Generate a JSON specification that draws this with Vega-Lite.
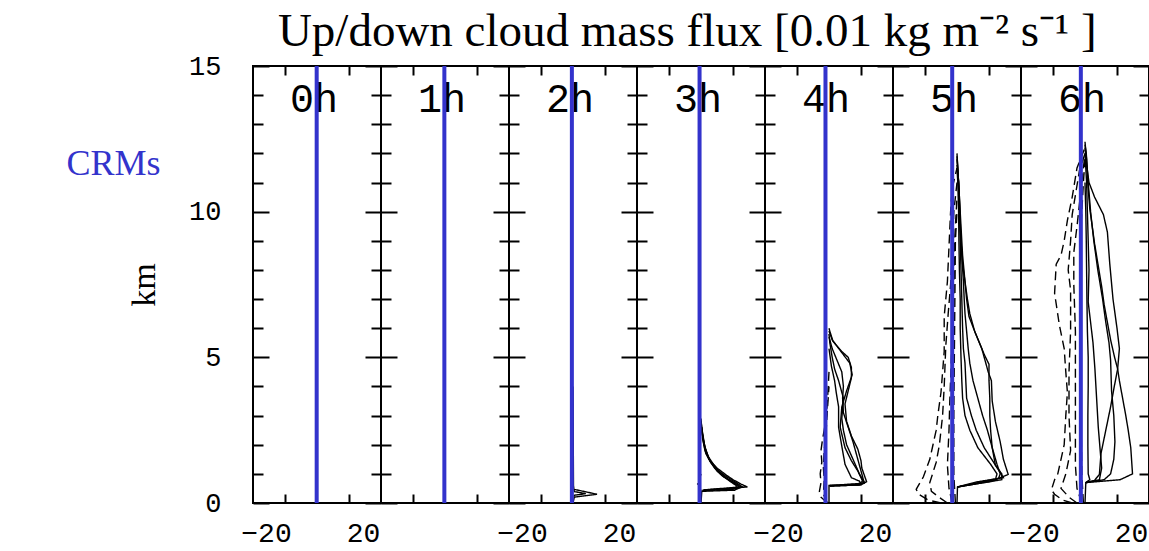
{
  "$schema": "https://vega.github.io/schema/vega-lite/v6.json",
  "background": "white",
  "autosize": {"type": "pad"},
  "padding": {"left": 65, "top": 8, "right": 0, "bottom": 4},
  "title": {"text": "Up/down cloud mass flux [0.01 kg m⁻² s⁻¹ ]", "font": "Liberation Serif", "fontSize": 47, "fontWeight": "normal", "color": "black", "anchor": "middle", "offset": -5, "dx": 79},
  "spacing": 0,
  "bounds": "flush",
  "config": {
    "view": {"stroke": "black", "strokeWidth": 2},
    "axis": {"domain": false, "grid": false, "tickColor": "black", "tickWidth": 2, "labelColor": "black", "labelFont": "Liberation Mono", "titleColor": "black"}
  },
  "datasets": {
    "panels": [
      {"hour": "0h", "zero": -0.2},
      {"hour": "1h", "zero": -0.4},
      {"hour": "2h", "zero": -0.7},
      {"hour": "3h", "zero": -0.9},
      {"hour": "4h", "zero": -2.2},
      {"hour": "5h", "zero": -3.0},
      {"hour": "6h", "zero": -2.6}
    ],
    "profiles": [
      {"hour": "0h", "id": "u1", "km": 0, "flux": 0}, {"hour": "0h", "id": "u1", "km": 15, "flux": 0},
      {"hour": "1h", "id": "u1", "km": 0, "flux": 0}, {"hour": "1h", "id": "u1", "km": 15, "flux": 0},

      {"hour": "2h", "id": "u1", "km": 0, "flux": 0}, {"hour": "2h", "id": "u1", "km": 0.2, "flux": 0.8}, {"hour": "2h", "id": "u1", "km": 0.3, "flux": 15}, {"hour": "2h", "id": "u1", "km": 0.47, "flux": 0.6}, {"hour": "2h", "id": "u1", "km": 0.6, "flux": 0.3}, {"hour": "2h", "id": "u1", "km": 4, "flux": 0},
      {"hour": "2h", "id": "u2", "km": 0.22, "flux": 0.5}, {"hour": "2h", "id": "u2", "km": 0.27, "flux": 1}, {"hour": "2h", "id": "u2", "km": 0.32, "flux": 8}, {"hour": "2h", "id": "u2", "km": 0.39, "flux": 1}, {"hour": "2h", "id": "u2", "km": 0.45, "flux": 0.5},

      {"hour": "3h", "id": "u1", "km": 0, "flux": 0}, {"hour": "3h", "id": "u1", "km": 0.4, "flux": 0.5}, {"hour": "3h", "id": "u1", "km": 0.45, "flux": 5}, {"hour": "3h", "id": "u1", "km": 0.55, "flux": 29}, {"hour": "3h", "id": "u1", "km": 0.65, "flux": 25}, {"hour": "3h", "id": "u1", "km": 0.8, "flux": 20}, {"hour": "3h", "id": "u1", "km": 0.95, "flux": 16}, {"hour": "3h", "id": "u1", "km": 1.2, "flux": 10}, {"hour": "3h", "id": "u1", "km": 1.5, "flux": 5}, {"hour": "3h", "id": "u1", "km": 1.8, "flux": 2.5}, {"hour": "3h", "id": "u1", "km": 2.2, "flux": 1}, {"hour": "3h", "id": "u1", "km": 2.9, "flux": 0},
      {"hour": "3h", "id": "u2", "km": 0.42, "flux": 1}, {"hour": "3h", "id": "u2", "km": 0.47, "flux": 20}, {"hour": "3h", "id": "u2", "km": 0.55, "flux": 26}, {"hour": "3h", "id": "u2", "km": 0.7, "flux": 22}, {"hour": "3h", "id": "u2", "km": 0.9, "flux": 16}, {"hour": "3h", "id": "u2", "km": 1.1, "flux": 11}, {"hour": "3h", "id": "u2", "km": 1.4, "flux": 6}, {"hour": "3h", "id": "u2", "km": 1.7, "flux": 3}, {"hour": "3h", "id": "u2", "km": 2.1, "flux": 1.5}, {"hour": "3h", "id": "u2", "km": 2.6, "flux": 0.5},
      {"hour": "3h", "id": "u3", "km": 0.45, "flux": 2}, {"hour": "3h", "id": "u3", "km": 0.55, "flux": 24}, {"hour": "3h", "id": "u3", "km": 0.7, "flux": 20}, {"hour": "3h", "id": "u3", "km": 0.85, "flux": 16}, {"hour": "3h", "id": "u3", "km": 1.05, "flux": 12}, {"hour": "3h", "id": "u3", "km": 1.3, "flux": 8}, {"hour": "3h", "id": "u3", "km": 1.6, "flux": 4.5}, {"hour": "3h", "id": "u3", "km": 2.0, "flux": 2}, {"hour": "3h", "id": "u3", "km": 2.5, "flux": 0.5},
      {"hour": "3h", "id": "u4", "km": 0.45, "flux": 1}, {"hour": "3h", "id": "u4", "km": 0.5, "flux": 22}, {"hour": "3h", "id": "u4", "km": 0.6, "flux": 22}, {"hour": "3h", "id": "u4", "km": 0.75, "flux": 18}, {"hour": "3h", "id": "u4", "km": 0.95, "flux": 13}, {"hour": "3h", "id": "u4", "km": 1.2, "flux": 8.5}, {"hour": "3h", "id": "u4", "km": 1.5, "flux": 5}, {"hour": "3h", "id": "u4", "km": 1.9, "flux": 2.5}, {"hour": "3h", "id": "u4", "km": 2.4, "flux": 1}, {"hour": "3h", "id": "u4", "km": 2.8, "flux": 0},
      {"hour": "3h", "id": "u5", "km": 0.4, "flux": 0.5}, {"hour": "3h", "id": "u5", "km": 0.44, "flux": 21}, {"hour": "3h", "id": "u5", "km": 0.55, "flux": 25}, {"hour": "3h", "id": "u5", "km": 0.7, "flux": 21}, {"hour": "3h", "id": "u5", "km": 0.9, "flux": 14}, {"hour": "3h", "id": "u5", "km": 1.1, "flux": 10}, {"hour": "3h", "id": "u5", "km": 1.4, "flux": 6}, {"hour": "3h", "id": "u5", "km": 1.8, "flux": 3}, {"hour": "3h", "id": "u5", "km": 2.3, "flux": 1}, {"hour": "3h", "id": "u5", "km": 2.7, "flux": 0},
      {"hour": "3h", "id": "d1", "km": 0.4, "flux": 0}, {"hour": "3h", "id": "d1", "km": 0.6, "flux": -1}, {"hour": "3h", "id": "d1", "km": 0.7, "flux": -3}, {"hour": "3h", "id": "d1", "km": 0.8, "flux": -1}, {"hour": "3h", "id": "d1", "km": 1.0, "flux": 0},

      {"hour": "4h", "id": "u1", "km": 0, "flux": 0}, {"hour": "4h", "id": "u1", "km": 0.6, "flux": 0}, {"hour": "4h", "id": "u1", "km": 0.62, "flux": 20}, {"hour": "4h", "id": "u1", "km": 0.73, "flux": 23.5}, {"hour": "4h", "id": "u1", "km": 1.2, "flux": 20.5}, {"hour": "4h", "id": "u1", "km": 1.45, "flux": 20}, {"hour": "4h", "id": "u1", "km": 1.85, "flux": 18}, {"hour": "4h", "id": "u1", "km": 2.3, "flux": 14}, {"hour": "4h", "id": "u1", "km": 2.8, "flux": 11}, {"hour": "4h", "id": "u1", "km": 3.4, "flux": 10}, {"hour": "4h", "id": "u1", "km": 3.85, "flux": 12}, {"hour": "4h", "id": "u1", "km": 4.3, "flux": 14}, {"hour": "4h", "id": "u1", "km": 4.65, "flux": 14}, {"hour": "4h", "id": "u1", "km": 5.0, "flux": 12}, {"hour": "4h", "id": "u1", "km": 5.2, "flux": 8}, {"hour": "4h", "id": "u1", "km": 5.55, "flux": 2.5}, {"hour": "4h", "id": "u1", "km": 5.9, "flux": 0.5}, {"hour": "4h", "id": "u1", "km": 6.0, "flux": 0},
      {"hour": "4h", "id": "u2", "km": 0.58, "flux": 0.5}, {"hour": "4h", "id": "u2", "km": 0.62, "flux": 18}, {"hour": "4h", "id": "u2", "km": 0.75, "flux": 21}, {"hour": "4h", "id": "u2", "km": 1.1, "flux": 18}, {"hour": "4h", "id": "u2", "km": 1.45, "flux": 14}, {"hour": "4h", "id": "u2", "km": 1.9, "flux": 10}, {"hour": "4h", "id": "u2", "km": 2.6, "flux": 7}, {"hour": "4h", "id": "u2", "km": 3.3, "flux": 8}, {"hour": "4h", "id": "u2", "km": 3.85, "flux": 11}, {"hour": "4h", "id": "u2", "km": 4.4, "flux": 14.5}, {"hour": "4h", "id": "u2", "km": 4.8, "flux": 13}, {"hour": "4h", "id": "u2", "km": 5.2, "flux": 7.5}, {"hour": "4h", "id": "u2", "km": 5.6, "flux": 2}, {"hour": "4h", "id": "u2", "km": 5.9, "flux": 0},
      {"hour": "4h", "id": "u3", "km": 0.58, "flux": 0.5}, {"hour": "4h", "id": "u3", "km": 0.62, "flux": 19}, {"hour": "4h", "id": "u3", "km": 0.72, "flux": 22}, {"hour": "4h", "id": "u3", "km": 1.0, "flux": 19}, {"hour": "4h", "id": "u3", "km": 1.5, "flux": 15}, {"hour": "4h", "id": "u3", "km": 2.0, "flux": 11}, {"hour": "4h", "id": "u3", "km": 2.5, "flux": 9}, {"hour": "4h", "id": "u3", "km": 2.9, "flux": 8}, {"hour": "4h", "id": "u3", "km": 3.6, "flux": 9}, {"hour": "4h", "id": "u3", "km": 4.2, "flux": 6}, {"hour": "4h", "id": "u3", "km": 4.6, "flux": 3.5}, {"hour": "4h", "id": "u3", "km": 5.0, "flux": 2}, {"hour": "4h", "id": "u3", "km": 5.5, "flux": 0.5}, {"hour": "4h", "id": "u3", "km": 5.8, "flux": 0},
      {"hour": "4h", "id": "u4", "km": 0.6, "flux": 0.5}, {"hour": "4h", "id": "u4", "km": 0.65, "flux": 20}, {"hour": "4h", "id": "u4", "km": 0.75, "flux": 19}, {"hour": "4h", "id": "u4", "km": 0.87, "flux": 14}, {"hour": "4h", "id": "u4", "km": 1.33, "flux": 10}, {"hour": "4h", "id": "u4", "km": 1.95, "flux": 8}, {"hour": "4h", "id": "u4", "km": 2.6, "flux": 6}, {"hour": "4h", "id": "u4", "km": 3.3, "flux": 6}, {"hour": "4h", "id": "u4", "km": 3.8, "flux": 4.5}, {"hour": "4h", "id": "u4", "km": 4.2, "flux": 3.5}, {"hour": "4h", "id": "u4", "km": 4.7, "flux": 1.5}, {"hour": "4h", "id": "u4", "km": 5.3, "flux": 0},
      {"hour": "4h", "id": "u5", "km": 0.6, "flux": 0.5}, {"hour": "4h", "id": "u5", "km": 0.68, "flux": 22}, {"hour": "4h", "id": "u5", "km": 0.9, "flux": 21}, {"hour": "4h", "id": "u5", "km": 1.3, "flux": 19}, {"hour": "4h", "id": "u5", "km": 1.7, "flux": 17}, {"hour": "4h", "id": "u5", "km": 2.1, "flux": 15}, {"hour": "4h", "id": "u5", "km": 2.6, "flux": 12}, {"hour": "4h", "id": "u5", "km": 3.1, "flux": 9}, {"hour": "4h", "id": "u5", "km": 3.6, "flux": 8.5}, {"hour": "4h", "id": "u5", "km": 4.0, "flux": 9}, {"hour": "4h", "id": "u5", "km": 4.5, "flux": 8}, {"hour": "4h", "id": "u5", "km": 4.9, "flux": 5}, {"hour": "4h", "id": "u5", "km": 5.3, "flux": 2}, {"hour": "4h", "id": "u5", "km": 5.7, "flux": 0},
      {"hour": "4h", "id": "d1", "km": 0, "flux": -1}, {"hour": "4h", "id": "d1", "km": 0.2, "flux": -5}, {"hour": "4h", "id": "d1", "km": 0.4, "flux": -6}, {"hour": "4h", "id": "d1", "km": 0.7, "flux": -5}, {"hour": "4h", "id": "d1", "km": 1.0, "flux": -5.5}, {"hour": "4h", "id": "d1", "km": 1.4, "flux": -4.5}, {"hour": "4h", "id": "d1", "km": 1.8, "flux": -5}, {"hour": "4h", "id": "d1", "km": 2.2, "flux": -4}, {"hour": "4h", "id": "d1", "km": 2.5, "flux": -3}, {"hour": "4h", "id": "d1", "km": 3.0, "flux": -1.5}, {"hour": "4h", "id": "d1", "km": 4.0, "flux": -0.5}, {"hour": "4h", "id": "d1", "km": 4.5, "flux": 0},
      {"hour": "4h", "id": "d2", "km": 0, "flux": -1}, {"hour": "4h", "id": "d2", "km": 0.3, "flux": -3.5}, {"hour": "4h", "id": "d2", "km": 0.8, "flux": -3}, {"hour": "4h", "id": "d2", "km": 1.2, "flux": -3.5}, {"hour": "4h", "id": "d2", "km": 1.8, "flux": -3}, {"hour": "4h", "id": "d2", "km": 2.3, "flux": -2}, {"hour": "4h", "id": "d2", "km": 3.2, "flux": -1}, {"hour": "4h", "id": "d2", "km": 4.0, "flux": 0},

      {"hour": "5h", "id": "u1", "km": 0, "flux": 0}, {"hour": "5h", "id": "u1", "km": 0.55, "flux": 0.3}, {"hour": "5h", "id": "u1", "km": 0.75, "flux": 22}, {"hour": "5h", "id": "u1", "km": 0.98, "flux": 32}, {"hour": "5h", "id": "u1", "km": 1.5, "flux": 29}, {"hour": "5h", "id": "u1", "km": 2.1, "flux": 27}, {"hour": "5h", "id": "u1", "km": 2.8, "flux": 24}, {"hour": "5h", "id": "u1", "km": 3.5, "flux": 22}, {"hour": "5h", "id": "u1", "km": 4.2, "flux": 21.5}, {"hour": "5h", "id": "u1", "km": 4.5, "flux": 19.5}, {"hour": "5h", "id": "u1", "km": 5.3, "flux": 15.5}, {"hour": "5h", "id": "u1", "km": 5.9, "flux": 11}, {"hour": "5h", "id": "u1", "km": 6.4, "flux": 7.5}, {"hour": "5h", "id": "u1", "km": 7.0, "flux": 6}, {"hour": "5h", "id": "u1", "km": 7.6, "flux": 5}, {"hour": "5h", "id": "u1", "km": 8.2, "flux": 3.5}, {"hour": "5h", "id": "u1", "km": 9.0, "flux": 2.5}, {"hour": "5h", "id": "u1", "km": 10, "flux": 1.8}, {"hour": "5h", "id": "u1", "km": 11, "flux": 1}, {"hour": "5h", "id": "u1", "km": 11.8, "flux": 0},
      {"hour": "5h", "id": "u2", "km": 0.55, "flux": 0.3}, {"hour": "5h", "id": "u2", "km": 0.72, "flux": 12}, {"hour": "5h", "id": "u2", "km": 0.87, "flux": 29}, {"hour": "5h", "id": "u2", "km": 1.3, "flux": 24}, {"hour": "5h", "id": "u2", "km": 1.9, "flux": 22}, {"hour": "5h", "id": "u2", "km": 2.5, "flux": 21}, {"hour": "5h", "id": "u2", "km": 3.0, "flux": 20.5}, {"hour": "5h", "id": "u2", "km": 3.6, "flux": 20.5}, {"hour": "5h", "id": "u2", "km": 4.2, "flux": 20}, {"hour": "5h", "id": "u2", "km": 4.76, "flux": 20}, {"hour": "5h", "id": "u2", "km": 5.1, "flux": 17}, {"hour": "5h", "id": "u2", "km": 5.5, "flux": 14}, {"hour": "5h", "id": "u2", "km": 5.9, "flux": 11}, {"hour": "5h", "id": "u2", "km": 6.5, "flux": 8}, {"hour": "5h", "id": "u2", "km": 7.0, "flux": 6.5}, {"hour": "5h", "id": "u2", "km": 7.6, "flux": 5}, {"hour": "5h", "id": "u2", "km": 8.5, "flux": 3.5}, {"hour": "5h", "id": "u2", "km": 9.5, "flux": 2.5}, {"hour": "5h", "id": "u2", "km": 10.5, "flux": 1.5}, {"hour": "5h", "id": "u2", "km": 11.5, "flux": 0.5}, {"hour": "5h", "id": "u2", "km": 11.9, "flux": 0},
      {"hour": "5h", "id": "u3", "km": 0.55, "flux": 0.3}, {"hour": "5h", "id": "u3", "km": 0.8, "flux": 28}, {"hour": "5h", "id": "u3", "km": 1.0, "flux": 28}, {"hour": "5h", "id": "u3", "km": 1.3, "flux": 24}, {"hour": "5h", "id": "u3", "km": 1.9, "flux": 17}, {"hour": "5h", "id": "u3", "km": 2.5, "flux": 12}, {"hour": "5h", "id": "u3", "km": 3.0, "flux": 9}, {"hour": "5h", "id": "u3", "km": 3.6, "flux": 6}, {"hour": "5h", "id": "u3", "km": 4.2, "flux": 5.5}, {"hour": "5h", "id": "u3", "km": 4.8, "flux": 5}, {"hour": "5h", "id": "u3", "km": 5.3, "flux": 4}, {"hour": "5h", "id": "u3", "km": 6, "flux": 3.5}, {"hour": "5h", "id": "u3", "km": 7, "flux": 3}, {"hour": "5h", "id": "u3", "km": 8, "flux": 2.5}, {"hour": "5h", "id": "u3", "km": 9, "flux": 2}, {"hour": "5h", "id": "u3", "km": 10, "flux": 1.5}, {"hour": "5h", "id": "u3", "km": 11, "flux": 1}, {"hour": "5h", "id": "u3", "km": 11.6, "flux": 0},
      {"hour": "5h", "id": "u4", "km": 0.55, "flux": 0.3}, {"hour": "5h", "id": "u4", "km": 0.8, "flux": 24}, {"hour": "5h", "id": "u4", "km": 1.0, "flux": 25}, {"hour": "5h", "id": "u4", "km": 1.33, "flux": 21}, {"hour": "5h", "id": "u4", "km": 1.9, "flux": 13}, {"hour": "5h", "id": "u4", "km": 2.5, "flux": 8}, {"hour": "5h", "id": "u4", "km": 3.0, "flux": 5}, {"hour": "5h", "id": "u4", "km": 3.6, "flux": 3.5}, {"hour": "5h", "id": "u4", "km": 4.2, "flux": 3}, {"hour": "5h", "id": "u4", "km": 5, "flux": 2.5}, {"hour": "5h", "id": "u4", "km": 6, "flux": 2}, {"hour": "5h", "id": "u4", "km": 7, "flux": 2}, {"hour": "5h", "id": "u4", "km": 8, "flux": 1.5}, {"hour": "5h", "id": "u4", "km": 9, "flux": 1.2}, {"hour": "5h", "id": "u4", "km": 10, "flux": 1}, {"hour": "5h", "id": "u4", "km": 11, "flux": 0.5}, {"hour": "5h", "id": "u4", "km": 11.5, "flux": 0},
      {"hour": "5h", "id": "u5", "km": 0.55, "flux": 0.3}, {"hour": "5h", "id": "u5", "km": 0.85, "flux": 26}, {"hour": "5h", "id": "u5", "km": 1.0, "flux": 27}, {"hour": "5h", "id": "u5", "km": 1.33, "flux": 25}, {"hour": "5h", "id": "u5", "km": 1.9, "flux": 22}, {"hour": "5h", "id": "u5", "km": 2.5, "flux": 19}, {"hour": "5h", "id": "u5", "km": 3.0, "flux": 16}, {"hour": "5h", "id": "u5", "km": 3.6, "flux": 13}, {"hour": "5h", "id": "u5", "km": 4.2, "flux": 10}, {"hour": "5h", "id": "u5", "km": 4.8, "flux": 8}, {"hour": "5h", "id": "u5", "km": 5.3, "flux": 7}, {"hour": "5h", "id": "u5", "km": 5.9, "flux": 6}, {"hour": "5h", "id": "u5", "km": 6.5, "flux": 5}, {"hour": "5h", "id": "u5", "km": 7.0, "flux": 4.5}, {"hour": "5h", "id": "u5", "km": 7.6, "flux": 4}, {"hour": "5h", "id": "u5", "km": 8.5, "flux": 3}, {"hour": "5h", "id": "u5", "km": 9.5, "flux": 2}, {"hour": "5h", "id": "u5", "km": 10.5, "flux": 1.5}, {"hour": "5h", "id": "u5", "km": 11.5, "flux": 0.5}, {"hour": "5h", "id": "u5", "km": 12, "flux": 0},
      {"hour": "5h", "id": "d1", "km": 0, "flux": -10}, {"hour": "5h", "id": "d1", "km": 0.1, "flux": -18}, {"hour": "5h", "id": "d1", "km": 0.3, "flux": -24}, {"hour": "5h", "id": "d1", "km": 0.47, "flux": -25.5}, {"hour": "5h", "id": "d1", "km": 0.9, "flux": -21}, {"hour": "5h", "id": "d1", "km": 1.5, "flux": -17}, {"hour": "5h", "id": "d1", "km": 2.0, "flux": -15}, {"hour": "5h", "id": "d1", "km": 2.5, "flux": -13}, {"hour": "5h", "id": "d1", "km": 3.0, "flux": -12}, {"hour": "5h", "id": "d1", "km": 3.8, "flux": -10}, {"hour": "5h", "id": "d1", "km": 4.5, "flux": -9}, {"hour": "5h", "id": "d1", "km": 5.2, "flux": -8}, {"hour": "5h", "id": "d1", "km": 6.4, "flux": -8}, {"hour": "5h", "id": "d1", "km": 7.6, "flux": -6}, {"hour": "5h", "id": "d1", "km": 8.8, "flux": -5}, {"hour": "5h", "id": "d1", "km": 10, "flux": -4}, {"hour": "5h", "id": "d1", "km": 10.8, "flux": -3}, {"hour": "5h", "id": "d1", "km": 11.5, "flux": 0},
      {"hour": "5h", "id": "d2", "km": 0, "flux": -6}, {"hour": "5h", "id": "d2", "km": 0.15, "flux": -10}, {"hour": "5h", "id": "d2", "km": 0.4, "flux": -16}, {"hour": "5h", "id": "d2", "km": 0.7, "flux": -17}, {"hour": "5h", "id": "d2", "km": 1.4, "flux": -13}, {"hour": "5h", "id": "d2", "km": 2.0, "flux": -11}, {"hour": "5h", "id": "d2", "km": 3.0, "flux": -9}, {"hour": "5h", "id": "d2", "km": 4.0, "flux": -8}, {"hour": "5h", "id": "d2", "km": 5.4, "flux": -7}, {"hour": "5h", "id": "d2", "km": 6.5, "flux": -5.5}, {"hour": "5h", "id": "d2", "km": 7.5, "flux": -4}, {"hour": "5h", "id": "d2", "km": 8.5, "flux": -3}, {"hour": "5h", "id": "d2", "km": 10, "flux": -2}, {"hour": "5h", "id": "d2", "km": 11, "flux": 0},
      {"hour": "5h", "id": "d3", "km": 0, "flux": -3}, {"hour": "5h", "id": "d3", "km": 0.5, "flux": -5}, {"hour": "5h", "id": "d3", "km": 1.3, "flux": -6}, {"hour": "5h", "id": "d3", "km": 2.5, "flux": -5}, {"hour": "5h", "id": "d3", "km": 3.5, "flux": -4.5}, {"hour": "5h", "id": "d3", "km": 5, "flux": -3.5}, {"hour": "5h", "id": "d3", "km": 7, "flux": -2}, {"hour": "5h", "id": "d3", "km": 9, "flux": -1.5}, {"hour": "5h", "id": "d3", "km": 10.5, "flux": 0},
      {"hour": "5h", "id": "d4", "km": 0, "flux": -1}, {"hour": "5h", "id": "d4", "km": 1, "flux": -2}, {"hour": "5h", "id": "d4", "km": 3, "flux": -2}, {"hour": "5h", "id": "d4", "km": 6, "flux": -1.5}, {"hour": "5h", "id": "d4", "km": 9, "flux": -1}, {"hour": "5h", "id": "d4", "km": 10, "flux": 0},

      {"hour": "6h", "id": "u1", "km": 0, "flux": 0}, {"hour": "6h", "id": "u1", "km": 0.7, "flux": 0.5}, {"hour": "6h", "id": "u1", "km": 0.8, "flux": 22}, {"hour": "6h", "id": "u1", "km": 1.0, "flux": 29.7}, {"hour": "6h", "id": "u1", "km": 1.9, "flux": 28.6}, {"hour": "6h", "id": "u1", "km": 2.5, "flux": 27}, {"hour": "6h", "id": "u1", "km": 3.0, "flux": 25.5}, {"hour": "6h", "id": "u1", "km": 3.6, "flux": 23.5}, {"hour": "6h", "id": "u1", "km": 4.2, "flux": 21.5}, {"hour": "6h", "id": "u1", "km": 4.6, "flux": 20.4}, {"hour": "6h", "id": "u1", "km": 5.0, "flux": 18.5}, {"hour": "6h", "id": "u1", "km": 5.6, "flux": 16}, {"hour": "6h", "id": "u1", "km": 6.2, "flux": 14}, {"hour": "6h", "id": "u1", "km": 6.8, "flux": 12}, {"hour": "6h", "id": "u1", "km": 7.4, "flux": 10.5}, {"hour": "6h", "id": "u1", "km": 7.9, "flux": 9}, {"hour": "6h", "id": "u1", "km": 8.9, "flux": 6}, {"hour": "6h", "id": "u1", "km": 10.1, "flux": 3}, {"hour": "6h", "id": "u1", "km": 11.0, "flux": 1.7}, {"hour": "6h", "id": "u1", "km": 11.8, "flux": 1}, {"hour": "6h", "id": "u1", "km": 12.4, "flux": 0},
      {"hour": "6h", "id": "u2", "km": 0.7, "flux": 0.5}, {"hour": "6h", "id": "u2", "km": 0.78, "flux": 6}, {"hour": "6h", "id": "u2", "km": 0.98, "flux": 9}, {"hour": "6h", "id": "u2", "km": 1.7, "flux": 10}, {"hour": "6h", "id": "u2", "km": 2.5, "flux": 13}, {"hour": "6h", "id": "u2", "km": 3.3, "flux": 16}, {"hour": "6h", "id": "u2", "km": 4.0, "flux": 18.3}, {"hour": "6h", "id": "u2", "km": 4.6, "flux": 20.4}, {"hour": "6h", "id": "u2", "km": 5.3, "flux": 21.5}, {"hour": "6h", "id": "u2", "km": 6.0, "flux": 20}, {"hour": "6h", "id": "u2", "km": 7.0, "flux": 17.5}, {"hour": "6h", "id": "u2", "km": 8.2, "flux": 15.5}, {"hour": "6h", "id": "u2", "km": 9.3, "flux": 14}, {"hour": "6h", "id": "u2", "km": 9.9, "flux": 11.5}, {"hour": "6h", "id": "u2", "km": 10.5, "flux": 6}, {"hour": "6h", "id": "u2", "km": 11.0, "flux": 2.5}, {"hour": "6h", "id": "u2", "km": 11.6, "flux": 1}, {"hour": "6h", "id": "u2", "km": 12.2, "flux": 0},
      {"hour": "6h", "id": "u3", "km": 0.7, "flux": 0.5}, {"hour": "6h", "id": "u3", "km": 0.8, "flux": 12}, {"hour": "6h", "id": "u3", "km": 1.0, "flux": 16}, {"hour": "6h", "id": "u3", "km": 1.5, "flux": 18}, {"hour": "6h", "id": "u3", "km": 2.1, "flux": 18.7}, {"hour": "6h", "id": "u3", "km": 3.0, "flux": 18}, {"hour": "6h", "id": "u3", "km": 3.85, "flux": 16.6}, {"hour": "6h", "id": "u3", "km": 4.9, "flux": 16}, {"hour": "6h", "id": "u3", "km": 5.5, "flux": 15}, {"hour": "6h", "id": "u3", "km": 6.2, "flux": 13}, {"hour": "6h", "id": "u3", "km": 7.0, "flux": 11}, {"hour": "6h", "id": "u3", "km": 8.0, "flux": 8}, {"hour": "6h", "id": "u3", "km": 9.0, "flux": 5.5}, {"hour": "6h", "id": "u3", "km": 10, "flux": 3.5}, {"hour": "6h", "id": "u3", "km": 11, "flux": 2}, {"hour": "6h", "id": "u3", "km": 12, "flux": 0.8}, {"hour": "6h", "id": "u3", "km": 12.3, "flux": 0},
      {"hour": "6h", "id": "u4", "km": 0.7, "flux": 0.5}, {"hour": "6h", "id": "u4", "km": 0.8, "flux": 9}, {"hour": "6h", "id": "u4", "km": 1.2, "flux": 10.4}, {"hour": "6h", "id": "u4", "km": 2.6, "flux": 8.3}, {"hour": "6h", "id": "u4", "km": 4.6, "flux": 6.2}, {"hour": "6h", "id": "u4", "km": 5.5, "flux": 5}, {"hour": "6h", "id": "u4", "km": 6.9, "flux": 2}, {"hour": "6h", "id": "u4", "km": 8, "flux": 2.5}, {"hour": "6h", "id": "u4", "km": 9, "flux": 2}, {"hour": "6h", "id": "u4", "km": 10, "flux": 1.5}, {"hour": "6h", "id": "u4", "km": 11, "flux": 1}, {"hour": "6h", "id": "u4", "km": 12, "flux": 0},
      {"hour": "6h", "id": "u5", "km": 0.7, "flux": 0.5}, {"hour": "6h", "id": "u5", "km": 0.8, "flux": 3}, {"hour": "6h", "id": "u5", "km": 1.0, "flux": 2}, {"hour": "6h", "id": "u5", "km": 2, "flux": 1.8}, {"hour": "6h", "id": "u5", "km": 3, "flux": 1.8}, {"hour": "6h", "id": "u5", "km": 4, "flux": 2}, {"hour": "6h", "id": "u5", "km": 5, "flux": 2}, {"hour": "6h", "id": "u5", "km": 5.9, "flux": 1.5}, {"hour": "6h", "id": "u5", "km": 7, "flux": 1.2}, {"hour": "6h", "id": "u5", "km": 8, "flux": 1}, {"hour": "6h", "id": "u5", "km": 9, "flux": 0.8}, {"hour": "6h", "id": "u5", "km": 10, "flux": 0.5}, {"hour": "6h", "id": "u5", "km": 11, "flux": 0},
      {"hour": "6h", "id": "d1", "km": 0, "flux": -8}, {"hour": "6h", "id": "d1", "km": 0.1, "flux": -14}, {"hour": "6h", "id": "d1", "km": 0.3, "flux": -19}, {"hour": "6h", "id": "d1", "km": 0.45, "flux": -21}, {"hour": "6h", "id": "d1", "km": 0.8, "flux": -19}, {"hour": "6h", "id": "d1", "km": 1.0, "flux": -17}, {"hour": "6h", "id": "d1", "km": 1.5, "flux": -15}, {"hour": "6h", "id": "d1", "km": 2.0, "flux": -13}, {"hour": "6h", "id": "d1", "km": 3.0, "flux": -12}, {"hour": "6h", "id": "d1", "km": 3.8, "flux": -11}, {"hour": "6h", "id": "d1", "km": 4.5, "flux": -12}, {"hour": "6h", "id": "d1", "km": 5.3, "flux": -13}, {"hour": "6h", "id": "d1", "km": 6.1, "flux": -16}, {"hour": "6h", "id": "d1", "km": 7.2, "flux": -19}, {"hour": "6h", "id": "d1", "km": 8.2, "flux": -18}, {"hour": "6h", "id": "d1", "km": 8.5, "flux": -15}, {"hour": "6h", "id": "d1", "km": 9.0, "flux": -13}, {"hour": "6h", "id": "d1", "km": 9.7, "flux": -11}, {"hour": "6h", "id": "d1", "km": 10.5, "flux": -8}, {"hour": "6h", "id": "d1", "km": 11.5, "flux": -5}, {"hour": "6h", "id": "d1", "km": 12.2, "flux": 0},
      {"hour": "6h", "id": "d2", "km": 0, "flux": -5}, {"hour": "6h", "id": "d2", "km": 0.2, "flux": -10}, {"hour": "6h", "id": "d2", "km": 0.5, "flux": -15}, {"hour": "6h", "id": "d2", "km": 1.0, "flux": -12}, {"hour": "6h", "id": "d2", "km": 1.8, "flux": -9}, {"hour": "6h", "id": "d2", "km": 3.0, "flux": -10}, {"hour": "6h", "id": "d2", "km": 4.5, "flux": -10}, {"hour": "6h", "id": "d2", "km": 5.9, "flux": -9}, {"hour": "6h", "id": "d2", "km": 7.3, "flux": -9}, {"hour": "6h", "id": "d2", "km": 8.0, "flux": -10.5}, {"hour": "6h", "id": "d2", "km": 9.0, "flux": -9}, {"hour": "6h", "id": "d2", "km": 9.9, "flux": -8}, {"hour": "6h", "id": "d2", "km": 11.4, "flux": -3.5}, {"hour": "6h", "id": "d2", "km": 12, "flux": 0},
      {"hour": "6h", "id": "d3", "km": 0, "flux": -2}, {"hour": "6h", "id": "d3", "km": 0.5, "flux": -5}, {"hour": "6h", "id": "d3", "km": 1.3, "flux": -6}, {"hour": "6h", "id": "d3", "km": 3.6, "flux": -6}, {"hour": "6h", "id": "d3", "km": 5.9, "flux": -6}, {"hour": "6h", "id": "d3", "km": 7.5, "flux": -7}, {"hour": "6h", "id": "d3", "km": 8.6, "flux": -7}, {"hour": "6h", "id": "d3", "km": 9.5, "flux": -5}, {"hour": "6h", "id": "d3", "km": 10.5, "flux": -3}, {"hour": "6h", "id": "d3", "km": 11.5, "flux": -1}, {"hour": "6h", "id": "d3", "km": 12, "flux": 0},
      {"hour": "6h", "id": "d4", "km": 0, "flux": -1}, {"hour": "6h", "id": "d4", "km": 1, "flux": -2}, {"hour": "6h", "id": "d4", "km": 3, "flux": -2.5}, {"hour": "6h", "id": "d4", "km": 5, "flux": -3}, {"hour": "6h", "id": "d4", "km": 7, "flux": -3}, {"hour": "6h", "id": "d4", "km": 9, "flux": -3}, {"hour": "6h", "id": "d4", "km": 10, "flux": -2}, {"hour": "6h", "id": "d4", "km": 11, "flux": -1}, {"hour": "6h", "id": "d4", "km": 11.8, "flux": 0}
    ]
  },
  "hconcat": [
    {
      "title": {"text": "CRMs", "orient": "left", "anchor": "end", "angle": 0, "align": "right", "baseline": "middle", "font": "Liberation Serif", "fontSize": 36, "fontWeight": "normal", "color": "#3333cc", "dy": 112, "dx": 97, "offset": -30},
      "width": 128, "height": 437,
      "layer": [
        {"data": {"name": "profiles"}, "transform": [{"filter": {"field": "hour", "equal": "0h"}}],
         "mark": {"type": "line", "color": "black", "strokeWidth": 1.4},
         "encoding": {
           "x": {"field": "flux", "type": "quantitative", "scale": {"domain": [-40, 40], "nice": false}, "axis": {"orient": "bottom", "values": [-20, 20], "tickSize": -9, "labelFontSize": 28, "labelPadding": 25, "labelOffset": {"condition": {"test": "datum.value < 0", "value": -19}, "value": 14}, "title": null}},
           "y": {"field": "km", "type": "quantitative", "scale": {"domain": [0, 15], "nice": false}, "axis": {"orient": "left", "values": [0,1,2,3,4,5,6,7,8,9,10,11,12,13,14,15], "tickSize": {"condition": {"test": "datum.value % 5 === 0", "value": -16}, "value": -10}, "labelExpr": "datum.value % 5 === 0 ? datum.label : ''", "labelFontSize": 27, "labelPadding": 48, "labelBaseline": "middle", "title": "km", "titleFont": "Liberation Serif", "titleFontSize": 34, "titleFontWeight": "normal", "titlePadding": 27}},
           "detail": {"field": "id"}, "order": {"field": "km"},
           "strokeDash": {"field": "id", "type": "nominal", "scale": {"domain": ["u1","u2","u3","u4","u5","d1","d2","d3","d4"], "range": [[1,0],[1,0],[1,0],[1,0],[1,0],[9,5],[9,5],[9,5],[9,5]]}, "legend": null}
         }},
        {"data": {"name": "panels"}, "transform": [{"filter": {"field": "hour", "equal": "0h"}}],
         "mark": {"type": "text", "font": "Liberation Mono", "fontSize": 40, "color": "black", "dx": -3, "align": "center", "baseline": "middle"},
         "encoding": {
           "x": {"datum": 0, "type": "quantitative", "axis": {"orient": "top", "values": [-20, 20], "tickSize": -9, "labels": false, "title": null}},
           "y": {"datum": 13.85, "type": "quantitative", "axis": {"orient": "right", "values": [0,1,2,3,4,5,6,7,8,9,10,11,12,13,14,15], "tickSize": {"condition": {"test": "datum.value % 5 === 0", "value": -16}, "value": -10}, "labels": false, "title": null}},
           "text": {"field": "hour"}
         }},
        {"data": {"name": "panels"}, "transform": [{"filter": {"field": "hour", "equal": "0h"}}],
         "mark": {"type": "rule", "color": "#3333cc", "strokeWidth": 4},
         "encoding": {"x": {"field": "zero", "type": "quantitative", "axis": null}}}
      ],
      "resolve": {"axis": {"x": "independent", "y": "independent"}}
    },
    {
      "width": 128, "height": 437,
      "layer": [
        {"data": {"name": "profiles"}, "transform": [{"filter": {"field": "hour", "equal": "1h"}}],
         "mark": {"type": "line", "color": "black", "strokeWidth": 1.4},
         "encoding": {
           "x": {"field": "flux", "type": "quantitative", "scale": {"domain": [-40, 40], "nice": false}, "axis": {"orient": "bottom", "values": [-20, 20], "tickSize": -9, "labels": false, "title": null}},
           "y": {"field": "km", "type": "quantitative", "scale": {"domain": [0, 15], "nice": false}, "axis": {"orient": "left", "values": [0,1,2,3,4,5,6,7,8,9,10,11,12,13,14,15], "tickSize": {"condition": {"test": "datum.value % 5 === 0", "value": -16}, "value": -10}, "labels": false, "title": null}},
           "detail": {"field": "id"}, "order": {"field": "km"},
           "strokeDash": {"field": "id", "type": "nominal", "scale": {"domain": ["u1","u2","u3","u4","u5","d1","d2","d3","d4"], "range": [[1,0],[1,0],[1,0],[1,0],[1,0],[9,5],[9,5],[9,5],[9,5]]}, "legend": null}
         }},
        {"data": {"name": "panels"}, "transform": [{"filter": {"field": "hour", "equal": "1h"}}],
         "mark": {"type": "text", "font": "Liberation Mono", "fontSize": 40, "color": "black", "dx": -3, "align": "center", "baseline": "middle"},
         "encoding": {
           "x": {"datum": 0, "type": "quantitative", "axis": {"orient": "top", "values": [-20, 20], "tickSize": -9, "labels": false, "title": null}},
           "y": {"datum": 13.85, "type": "quantitative", "axis": {"orient": "right", "values": [0,1,2,3,4,5,6,7,8,9,10,11,12,13,14,15], "tickSize": {"condition": {"test": "datum.value % 5 === 0", "value": -16}, "value": -10}, "labels": false, "title": null}},
           "text": {"field": "hour"}
         }},
        {"data": {"name": "panels"}, "transform": [{"filter": {"field": "hour", "equal": "1h"}}],
         "mark": {"type": "rule", "color": "#3333cc", "strokeWidth": 4},
         "encoding": {"x": {"field": "zero", "type": "quantitative", "axis": null}}}
      ],
      "resolve": {"axis": {"x": "independent", "y": "independent"}}
    },
    {
      "width": 128, "height": 437,
      "layer": [
        {"data": {"name": "profiles"}, "transform": [{"filter": {"field": "hour", "equal": "2h"}}],
         "mark": {"type": "line", "color": "black", "strokeWidth": 1.4},
         "encoding": {
           "x": {"field": "flux", "type": "quantitative", "scale": {"domain": [-40, 40], "nice": false}, "axis": {"orient": "bottom", "values": [-20, 20], "tickSize": -9, "labelFontSize": 28, "labelPadding": 25, "labelOffset": {"condition": {"test": "datum.value < 0", "value": -19}, "value": 14}, "title": null}},
           "y": {"field": "km", "type": "quantitative", "scale": {"domain": [0, 15], "nice": false}, "axis": {"orient": "left", "values": [0,1,2,3,4,5,6,7,8,9,10,11,12,13,14,15], "tickSize": {"condition": {"test": "datum.value % 5 === 0", "value": -16}, "value": -10}, "labels": false, "title": null}},
           "detail": {"field": "id"}, "order": {"field": "km"},
           "strokeDash": {"field": "id", "type": "nominal", "scale": {"domain": ["u1","u2","u3","u4","u5","d1","d2","d3","d4"], "range": [[1,0],[1,0],[1,0],[1,0],[1,0],[9,5],[9,5],[9,5],[9,5]]}, "legend": null}
         }},
        {"data": {"name": "panels"}, "transform": [{"filter": {"field": "hour", "equal": "2h"}}],
         "mark": {"type": "text", "font": "Liberation Mono", "fontSize": 40, "color": "black", "dx": -3, "align": "center", "baseline": "middle"},
         "encoding": {
           "x": {"datum": 0, "type": "quantitative", "axis": {"orient": "top", "values": [-20, 20], "tickSize": -9, "labels": false, "title": null}},
           "y": {"datum": 13.85, "type": "quantitative", "axis": {"orient": "right", "values": [0,1,2,3,4,5,6,7,8,9,10,11,12,13,14,15], "tickSize": {"condition": {"test": "datum.value % 5 === 0", "value": -16}, "value": -10}, "labels": false, "title": null}},
           "text": {"field": "hour"}
         }},
        {"data": {"name": "panels"}, "transform": [{"filter": {"field": "hour", "equal": "2h"}}],
         "mark": {"type": "rule", "color": "#3333cc", "strokeWidth": 4},
         "encoding": {"x": {"field": "zero", "type": "quantitative", "axis": null}}}
      ],
      "resolve": {"axis": {"x": "independent", "y": "independent"}}
    },
    {
      "width": 128, "height": 437,
      "layer": [
        {"data": {"name": "profiles"}, "transform": [{"filter": {"field": "hour", "equal": "3h"}}],
         "mark": {"type": "line", "color": "black", "strokeWidth": 1.4},
         "encoding": {
           "x": {"field": "flux", "type": "quantitative", "scale": {"domain": [-40, 40], "nice": false}, "axis": {"orient": "bottom", "values": [-20, 20], "tickSize": -9, "labels": false, "title": null}},
           "y": {"field": "km", "type": "quantitative", "scale": {"domain": [0, 15], "nice": false}, "axis": {"orient": "left", "values": [0,1,2,3,4,5,6,7,8,9,10,11,12,13,14,15], "tickSize": {"condition": {"test": "datum.value % 5 === 0", "value": -16}, "value": -10}, "labels": false, "title": null}},
           "detail": {"field": "id"}, "order": {"field": "km"},
           "strokeDash": {"field": "id", "type": "nominal", "scale": {"domain": ["u1","u2","u3","u4","u5","d1","d2","d3","d4"], "range": [[1,0],[1,0],[1,0],[1,0],[1,0],[9,5],[9,5],[9,5],[9,5]]}, "legend": null}
         }},
        {"data": {"name": "panels"}, "transform": [{"filter": {"field": "hour", "equal": "3h"}}],
         "mark": {"type": "text", "font": "Liberation Mono", "fontSize": 40, "color": "black", "dx": -3, "align": "center", "baseline": "middle"},
         "encoding": {
           "x": {"datum": 0, "type": "quantitative", "axis": {"orient": "top", "values": [-20, 20], "tickSize": -9, "labels": false, "title": null}},
           "y": {"datum": 13.85, "type": "quantitative", "axis": {"orient": "right", "values": [0,1,2,3,4,5,6,7,8,9,10,11,12,13,14,15], "tickSize": {"condition": {"test": "datum.value % 5 === 0", "value": -16}, "value": -10}, "labels": false, "title": null}},
           "text": {"field": "hour"}
         }},
        {"data": {"name": "panels"}, "transform": [{"filter": {"field": "hour", "equal": "3h"}}],
         "mark": {"type": "rule", "color": "#3333cc", "strokeWidth": 4},
         "encoding": {"x": {"field": "zero", "type": "quantitative", "axis": null}}}
      ],
      "resolve": {"axis": {"x": "independent", "y": "independent"}}
    },
    {
      "width": 128, "height": 437,
      "layer": [
        {"data": {"name": "profiles"}, "transform": [{"filter": {"field": "hour", "equal": "4h"}}],
         "mark": {"type": "line", "color": "black", "strokeWidth": 1.4},
         "encoding": {
           "x": {"field": "flux", "type": "quantitative", "scale": {"domain": [-40, 40], "nice": false}, "axis": {"orient": "bottom", "values": [-20, 20], "tickSize": -9, "labelFontSize": 28, "labelPadding": 25, "labelOffset": {"condition": {"test": "datum.value < 0", "value": -19}, "value": 14}, "title": null}},
           "y": {"field": "km", "type": "quantitative", "scale": {"domain": [0, 15], "nice": false}, "axis": {"orient": "left", "values": [0,1,2,3,4,5,6,7,8,9,10,11,12,13,14,15], "tickSize": {"condition": {"test": "datum.value % 5 === 0", "value": -16}, "value": -10}, "labels": false, "title": null}},
           "detail": {"field": "id"}, "order": {"field": "km"},
           "strokeDash": {"field": "id", "type": "nominal", "scale": {"domain": ["u1","u2","u3","u4","u5","d1","d2","d3","d4"], "range": [[1,0],[1,0],[1,0],[1,0],[1,0],[9,5],[9,5],[9,5],[9,5]]}, "legend": null}
         }},
        {"data": {"name": "panels"}, "transform": [{"filter": {"field": "hour", "equal": "4h"}}],
         "mark": {"type": "text", "font": "Liberation Mono", "fontSize": 40, "color": "black", "dx": -3, "align": "center", "baseline": "middle"},
         "encoding": {
           "x": {"datum": 0, "type": "quantitative", "axis": {"orient": "top", "values": [-20, 20], "tickSize": -9, "labels": false, "title": null}},
           "y": {"datum": 13.85, "type": "quantitative", "axis": {"orient": "right", "values": [0,1,2,3,4,5,6,7,8,9,10,11,12,13,14,15], "tickSize": {"condition": {"test": "datum.value % 5 === 0", "value": -16}, "value": -10}, "labels": false, "title": null}},
           "text": {"field": "hour"}
         }},
        {"data": {"name": "panels"}, "transform": [{"filter": {"field": "hour", "equal": "4h"}}],
         "mark": {"type": "rule", "color": "#3333cc", "strokeWidth": 4},
         "encoding": {"x": {"field": "zero", "type": "quantitative", "axis": null}}}
      ],
      "resolve": {"axis": {"x": "independent", "y": "independent"}}
    },
    {
      "width": 128, "height": 437,
      "layer": [
        {"data": {"name": "profiles"}, "transform": [{"filter": {"field": "hour", "equal": "5h"}}],
         "mark": {"type": "line", "color": "black", "strokeWidth": 1.4},
         "encoding": {
           "x": {"field": "flux", "type": "quantitative", "scale": {"domain": [-40, 40], "nice": false}, "axis": {"orient": "bottom", "values": [-20, 20], "tickSize": -9, "labels": false, "title": null}},
           "y": {"field": "km", "type": "quantitative", "scale": {"domain": [0, 15], "nice": false}, "axis": {"orient": "left", "values": [0,1,2,3,4,5,6,7,8,9,10,11,12,13,14,15], "tickSize": {"condition": {"test": "datum.value % 5 === 0", "value": -16}, "value": -10}, "labels": false, "title": null}},
           "detail": {"field": "id"}, "order": {"field": "km"},
           "strokeDash": {"field": "id", "type": "nominal", "scale": {"domain": ["u1","u2","u3","u4","u5","d1","d2","d3","d4"], "range": [[1,0],[1,0],[1,0],[1,0],[1,0],[9,5],[9,5],[9,5],[9,5]]}, "legend": null}
         }},
        {"data": {"name": "panels"}, "transform": [{"filter": {"field": "hour", "equal": "5h"}}],
         "mark": {"type": "text", "font": "Liberation Mono", "fontSize": 40, "color": "black", "dx": -3, "align": "center", "baseline": "middle"},
         "encoding": {
           "x": {"datum": 0, "type": "quantitative", "axis": {"orient": "top", "values": [-20, 20], "tickSize": -9, "labels": false, "title": null}},
           "y": {"datum": 13.85, "type": "quantitative", "axis": {"orient": "right", "values": [0,1,2,3,4,5,6,7,8,9,10,11,12,13,14,15], "tickSize": {"condition": {"test": "datum.value % 5 === 0", "value": -16}, "value": -10}, "labels": false, "title": null}},
           "text": {"field": "hour"}
         }},
        {"data": {"name": "panels"}, "transform": [{"filter": {"field": "hour", "equal": "5h"}}],
         "mark": {"type": "rule", "color": "#3333cc", "strokeWidth": 4},
         "encoding": {"x": {"field": "zero", "type": "quantitative", "axis": null}}}
      ],
      "resolve": {"axis": {"x": "independent", "y": "independent"}}
    },
    {
      "width": 128, "height": 437,
      "layer": [
        {"data": {"name": "profiles"}, "transform": [{"filter": {"field": "hour", "equal": "6h"}}],
         "mark": {"type": "line", "color": "black", "strokeWidth": 1.4},
         "encoding": {
           "x": {"field": "flux", "type": "quantitative", "scale": {"domain": [-40, 40], "nice": false}, "axis": {"orient": "bottom", "values": [-20, 20], "tickSize": -9, "labelFontSize": 28, "labelPadding": 25, "labelOffset": {"condition": {"test": "datum.value < 0", "value": -19}, "value": 14}, "title": null}},
           "y": {"field": "km", "type": "quantitative", "scale": {"domain": [0, 15], "nice": false}, "axis": {"orient": "left", "values": [0,1,2,3,4,5,6,7,8,9,10,11,12,13,14,15], "tickSize": {"condition": {"test": "datum.value % 5 === 0", "value": -16}, "value": -10}, "labels": false, "title": null}},
           "detail": {"field": "id"}, "order": {"field": "km"},
           "strokeDash": {"field": "id", "type": "nominal", "scale": {"domain": ["u1","u2","u3","u4","u5","d1","d2","d3","d4"], "range": [[1,0],[1,0],[1,0],[1,0],[1,0],[9,5],[9,5],[9,5],[9,5]]}, "legend": null}
         }},
        {"data": {"name": "panels"}, "transform": [{"filter": {"field": "hour", "equal": "6h"}}],
         "mark": {"type": "text", "font": "Liberation Mono", "fontSize": 40, "color": "black", "dx": -3, "align": "center", "baseline": "middle"},
         "encoding": {
           "x": {"datum": 0, "type": "quantitative", "axis": {"orient": "top", "values": [-20, 20], "tickSize": -9, "labels": false, "title": null}},
           "y": {"datum": 13.85, "type": "quantitative", "axis": {"orient": "right", "values": [0,1,2,3,4,5,6,7,8,9,10,11,12,13,14,15], "tickSize": {"condition": {"test": "datum.value % 5 === 0", "value": -16}, "value": -10}, "labels": false, "title": null}},
           "text": {"field": "hour"}
         }},
        {"data": {"name": "panels"}, "transform": [{"filter": {"field": "hour", "equal": "6h"}}],
         "mark": {"type": "rule", "color": "#3333cc", "strokeWidth": 4},
         "encoding": {"x": {"field": "zero", "type": "quantitative", "axis": null}}}
      ],
      "resolve": {"axis": {"x": "independent", "y": "independent"}}
    }
  ]
}
